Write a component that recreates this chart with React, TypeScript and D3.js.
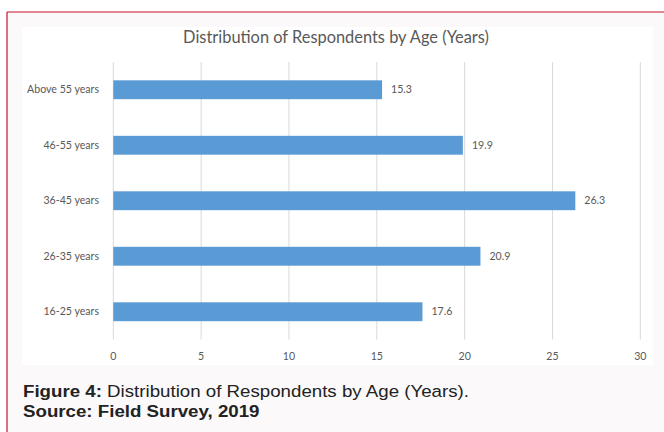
import React from "react";
import * as d3 from "d3";

// Survey data: share of respondents per age group (%)
const categories: string[] = ["Above 55 years", "46-55 years", "36-45 years", "26-35 years", "16-25 years"];
const values: number[] = [15.3, 19.9, 26.3, 20.9, 17.6];
const xTicks: number[] = [0, 5, 10, 15, 20, 25, 30];

const chartTitle = "Distribution of Respondents by Age (Years)";
const captionLabel = "Figure 4:";
const captionText = " Distribution of Respondents by Age (Years).";
const sourceText = "Source: Field Survey, 2019";

const W = 664;
const H = 432;

const plot = { left: 113.3, right: 640.3, top: 62, bottom: 339.5 };

const FONT = "Lato, 'Open Sans', sans-serif";
const CAPTION_FONT = "'Liberation Sans', Arial, sans-serif";
const TEXT_GRAY = "#595959";
const BAR_BLUE = "#5b9bd5";
const GRID = "#d9d9d9";

export default function App() {
  const x = d3.scaleLinear().domain([0, 30]).range([plot.left, plot.right]);
  const y = d3
    .scaleBand<string>()
    .domain(categories)
    .range([plot.top, plot.bottom])
    .paddingInner(0.66)
    .paddingOuter(0.33);

  return (
    <svg
      width={W}
      height={H}
      style={{ position: "absolute", left: 0, top: 0, display: "block" }}
      xmlns="http://www.w3.org/2000/svg"
    >
      {/* page background and frame */}
      <rect x={0} y={0} width={W} height={H} fill="#ffffff" />
      <rect x={7} y={12} width={W} height={H} fill="#fbf9fa" />
      <line x1={7} y1={12} x2={W} y2={12} stroke="#c8102e" strokeWidth={1.2} />
      <line x1={7} y1={12} x2={7} y2={H} stroke="#c8102e" strokeWidth={1.2} />

      {/* chart panel */}
      <rect x={22} y={27} width={631} height={338} fill="#ffffff" />

      <text
        x={336}
        y={43}
        textAnchor="middle"
        fontFamily={FONT}
        fontSize={16.4}
        fill={TEXT_GRAY}
      >
        {chartTitle}
      </text>

      {/* vertical gridlines */}
      {xTicks.map((t) => (
        <line
          key={`g${t}`}
          x1={x(t)}
          x2={x(t)}
          y1={plot.top}
          y2={plot.bottom}
          stroke={GRID}
          strokeWidth={1}
        />
      ))}

      {/* x tick labels */}
      {xTicks.map((t) => (
        <text
          key={`t${t}`}
          x={x(t)}
          y={360}
          textAnchor="middle"
          fontFamily={FONT}
          fontSize={10.6}
          fill={TEXT_GRAY}
        >
          {t}
        </text>
      ))}

      {/* bars with value labels */}
      {categories.map((c, i) => {
        const yc = (y(c) ?? 0) + y.bandwidth() / 2;
        return (
          <g key={c}>
            <rect
              x={x(0)}
              y={y(c)}
              width={x(values[i]) - x(0)}
              height={y.bandwidth()}
              fill={BAR_BLUE}
            />
            <text
              x={x(values[i]) + 9}
              y={yc}
              dy="0.35em"
              fontFamily={FONT}
              fontSize={10.6}
              fill={TEXT_GRAY}
            >
              {values[i]}
            </text>
            <text
              x={99}
              y={yc}
              dy="0.35em"
              textAnchor="end"
              fontFamily={FONT}
              fontSize={10.6}
              fill={TEXT_GRAY}
            >
              {c}
            </text>
          </g>
        );
      })}

      {/* caption, set slightly wide */}
      <g transform="translate(23,0) scale(1.1,1)">
        <text x={0} y={397} fontFamily={CAPTION_FONT} fontSize={17} fill="#222222">
          <tspan fontWeight="bold">{captionLabel}</tspan>
          <tspan>{captionText}</tspan>
        </text>
        <text x={0} y={417} fontFamily={CAPTION_FONT} fontSize={17} fontWeight="bold" fill="#222222">
          {sourceText}
        </text>
      </g>
    </svg>
  );
}
